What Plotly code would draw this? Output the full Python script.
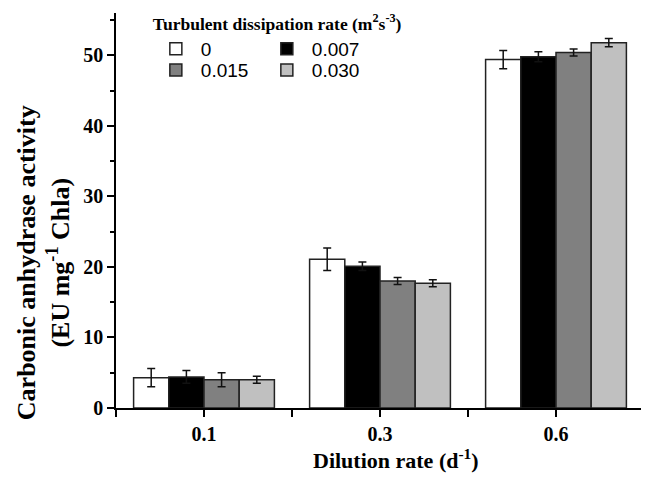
import plotly.graph_objects as go

categories = ["0.1", "0.3", "0.6"]
series_names = ["0", "0.007", "0.015", "0.030"]
values = [
    [4.3, 21.1, 49.4],
    [4.4, 20.1, 49.8],
    [4.0, 18.0, 50.4],
    [4.0, 17.7, 51.8],
]
errors = [
    [1.3, 1.6, 1.3],
    [0.9, 0.6, 0.7],
    [1.0, 0.5, 0.5],
    [0.5, 0.5, 0.6],
]
colors = ["#ffffff", "#000000", "#808080", "#c0c0c0"]
legend_ids = ["legend", "legend", "legend2", "legend2"]
y_ticks = [0, 10, 20, 30, 40, 50]

xpos = list(range(len(categories)))

fig = go.Figure()
for name, vals, errs, col, lg in zip(series_names, values, errors, colors, legend_ids):
    fig.add_trace(go.Bar(
        x=xpos, y=vals, name=name,
        marker=dict(color=col, line=dict(color="#222222", width=1.5)),
        error_y=dict(type="data", array=errs, color="#111111", thickness=1.5, width=4),
        legend=lg,
    ))

serif = "Liberation Serif"
fig.update_layout(
    width=641, height=476,
    margin=dict(l=108, r=5, t=5, b=76, autoexpand=False),
    paper_bgcolor="white", plot_bgcolor="white",
    barmode="group", bargap=0.2, bargroupgap=0,
    font=dict(family=serif, color="black"),
    showlegend=True,
    legend=dict(
        orientation="h", x=0.066, y=1.015, xanchor="left", yanchor="top",
        title=dict(text="<b>Turbulent dissipation rate (m<sup>2</sup>s<sup>-3</sup>)</b>",
                   font=dict(family=serif, size=17.5), side="top"),
        font=dict(family="Liberation Sans", size=19),
        itemwidth=40, entrywidth=56, bgcolor="rgba(0,0,0,0)", traceorder="normal",
    ),
    legend2=dict(
        orientation="h", x=0.066, y=0.9035, xanchor="left", yanchor="top",
        font=dict(family="Liberation Sans", size=19),
        itemwidth=40, entrywidth=56, bgcolor="rgba(0,0,0,0)", traceorder="normal",
    ),
    annotations=[
        dict(text="<b>Dilution rate (d<sup>-1</sup>)</b>", xref="paper", yref="paper",
             x=0.53, y=-0.13, xanchor="center", yanchor="middle", showarrow=False,
             font=dict(family=serif, size=22)),
        dict(text="<b>Carbonic anhydrase activity<br>(EU mg<sup>-1</sup> Chla)</b>",
             xref="paper", yref="paper", x=-0.138, y=0.367, xanchor="center", yanchor="middle",
             textangle=-90, showarrow=False, font=dict(family=serif, size=26)),
    ],
)

fig.update_xaxes(
    range=[-0.5, 2.5], tickvals=xpos, ticktext=["<b>%s</b>" % c for c in categories],
    tickfont=dict(family=serif, size=20), automargin=False,
    showline=True, linecolor="black", linewidth=1.5, mirror=False,
    ticks="outside", ticklen=7, tickwidth=1.5, tickcolor="black",
    minor=dict(tickvals=[-0.5, 0.5, 1.5, 2.5], ticks="outside", ticklen=7, tickwidth=1.5, tickcolor="black"),
    showgrid=False, zeroline=False,
)
fig.update_yaxes(
    range=[0, 56], tickvals=y_ticks,
    ticktext=["<b>%d</b>" % v for v in y_ticks],
    tickfont=dict(family=serif, size=20), automargin=False,
    showline=True, linecolor="black", linewidth=1.5,
    ticks="outside", ticklen=7, tickwidth=1.5, tickcolor="black",
    minor=dict(tickvals=[5, 15, 25, 35, 45, 55], ticks="outside", ticklen=4, tickwidth=1.5, tickcolor="black"),
    showgrid=False, zeroline=False,
)

fig.write_html("out.html")
